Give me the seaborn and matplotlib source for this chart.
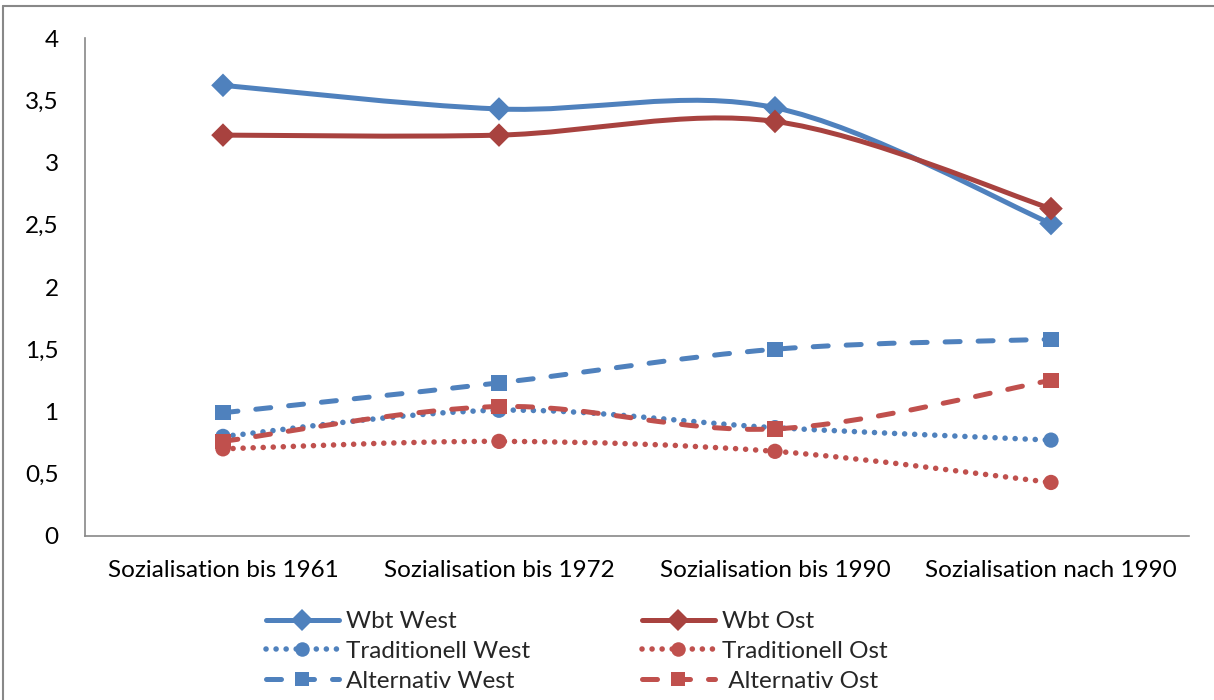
"""
Wertorientierungen nach Sozialisationsphase (West/Ost)
"""

import numpy as np
import matplotlib
matplotlib.use('Agg')
import matplotlib.pyplot as plt
from matplotlib.path import Path
from matplotlib.patches import PathPatch
from matplotlib.lines import Line2D
from matplotlib.ticker import FuncFormatter
import seaborn as sns

# Daten
categories = ['Sozialisation bis 1961', 'Sozialisation bis 1972',
              'Sozialisation bis 1990', 'Sozialisation nach 1990']
wbt_west = [3.62, 3.43, 3.44, 2.51]
wbt_ost = [3.22, 3.22, 3.33, 2.63]
trad_west = [0.80, 1.01, 0.87, 0.77]
trad_ost = [0.70, 0.76, 0.68, 0.43]
alt_west = [0.99, 1.23, 1.50, 1.58]
alt_ost = [0.76, 1.04, 0.86, 1.25]
labels = ['Wbt West', 'Wbt Ost', 'Traditionell West', 'Traditionell Ost',
          'Alternativ West', ' Alternativ Ost']

BLUE = '#4F81BD'
RED = '#C0504D'
DARKRED = '#A8423F'

sns.set_style('white')
plt.rcParams['font.family'] = ['Lato', 'DejaVu Sans']


def smooth_path(values):
    """Geglaettete Linie wie in Excel (Bezier durch die Datenpunkte)"""
    pts = [(float(i), float(v)) for i, v in enumerate(values)]
    ext = [pts[0]] + pts + [pts[-1]]
    verts = [pts[0]]
    codes = [Path.MOVETO]
    for i in range(len(pts) - 1):
        p0, p1, p2, p3 = ext[i], ext[i + 1], ext[i + 2], ext[i + 3]
        c1 = (p1[0] + (p2[0] - p0[0]) / 6, p1[1] + (p2[1] - p0[1]) / 6)
        c2 = (p2[0] - (p3[0] - p1[0]) / 6, p2[1] - (p3[1] - p1[1]) / 6)
        verts += [c1, c2, p2]
        codes += [Path.CURVE4] * 3
    return Path(verts, codes)


fig = plt.figure(figsize=(12.14, 7.0), dpi=100)
ax = fig.add_axes([0.070, 0.2343, 0.9094, 0.7114])

series = [
    (wbt_west, BLUE, '-', 'D', 12),
    (wbt_ost, DARKRED, '-', 'D', 12),
    (trad_west, BLUE, (0, (0.01, 1.8)), 'o', 11),
    (trad_ost, RED, (0, (0.01, 1.8)), 'o', 11),
    (alt_west, BLUE, (0, (3.0, 3.6)), 's', 11),
    (alt_ost, RED, (0, (3.0, 3.6)), 's', 11),
]

handles = []
for (vals, color, ls, marker, ms), lab in zip(series, labels):
    lw = 3.6 if ls == '-' or ls[1][0] > 1 else 4.0
    patch = PathPatch(smooth_path(vals), fill=False, edgecolor=color,
                      linewidth=lw, linestyle=ls, capstyle='round',
                      joinstyle='round', zorder=2)
    ax.add_patch(patch)
    sns.scatterplot(x=categories, y=vals, marker=marker, s=ms ** 2,
                    color=color, edgecolor='none', linewidth=0, ax=ax,
                    zorder=3, legend=False)
    handles.append(Line2D([], [], color=color, linewidth=lw, linestyle=ls,
                          marker=marker, markersize=ms * 0.95,
                          markeredgewidth=0, solid_capstyle='round',
                          dash_capstyle='round', label=lab))

ax.set_xlim(-0.5, 3.5)
ax.set_ylim(0, 4)
ax.set_yticks(np.arange(0, 4.01, 0.5))
ax.yaxis.set_major_formatter(FuncFormatter(
    lambda v, p: ('%g' % v).replace('.', ',')))
ax.tick_params(axis='both', length=0, labelsize=17.5, colors='black')
ax.tick_params(axis='y', pad=19)
ax.tick_params(axis='x', pad=17)

for side in ['top', 'right']:
    ax.spines[side].set_visible(False)
for side in ['left', 'bottom']:
    ax.spines[side].set_color('#888888')
    ax.spines[side].set_linewidth(1.2)

# Legende: Zeilenweise West / Ost
order = [0, 2, 4, 1, 3, 5]
fig.legend([handles[i] for i in order], [labels[i] for i in order],
           ncol=2, loc='upper left', bbox_to_anchor=(0.219, 0.127),
           frameon=False, fontsize=17.5, handlelength=3.0,
           columnspacing=4.6, labelspacing=0.36, handletextpad=0.3,
           borderaxespad=0, borderpad=0)

# Rahmen um die Grafik
fig.add_artist(Line2D([3 / 1214, 3 / 1214], [0, 1 - 6 / 700],
                      transform=fig.transFigure, color='#888888', lw=1.5))
fig.add_artist(Line2D([3 / 1214, 1], [1 - 6 / 700, 1 - 6 / 700],
                      transform=fig.transFigure, color='#888888', lw=1.5))

fig.savefig('out.png', dpi=100)
